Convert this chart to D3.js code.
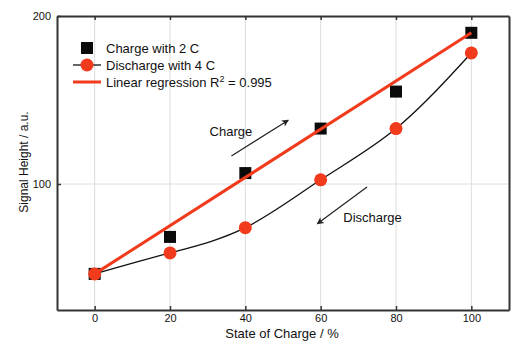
<!DOCTYPE html>
<html>
<head>
<meta charset="utf-8">
<script src="https://cdn.jsdelivr.net/npm/d3@7"></script>
<style>
  body { margin: 0; background: #fff; }
  text { font-family: "Liberation Sans", Arial, sans-serif; }
</style>
</head>
<body>
<div id="wrapper"></div>
<script>
// data
const soc = [0, 20, 40, 60, 80, 100]
const chargeValues = [46.5, 68.5, 106.5, 133, 155, 190]
const dischargeValues = [46.5, 59, 74, 102.5, 133, 178]
const regression = [[0, 46.5], [100, 190]]
const xTicks = [0, 20, 40, 60, 80, 100]
const yTicks = [100, 200]
const legendLabels = ["Charge with 2 C", "Discharge with 4 C", "Linear regression R"]
const annotations = [
  { text: "Charge", x: 30.5, y: 128.5, from: [36.3, 116.6], to: [51.4, 138] },
  { text: "Discharge", x: 66, y: 77.5, from: [72.3, 98.2], to: [59.1, 76.3] },
]

const red = "#f23a1c"

// dimensions
let dimensions = {
  width: 525,
  height: 347,
  margin: { top: 16, right: 16, bottom: 37, left: 57 },
}
dimensions.boundWidth = dimensions.width - dimensions.margin.left - dimensions.margin.right
dimensions.boundHeight = dimensions.height - dimensions.margin.top - dimensions.margin.bottom

const wrapper = d3.select("#wrapper")
  .append("svg")
    .attr("width", dimensions.width)
    .attr("height", dimensions.height)

const defs = wrapper.append("defs")
defs.append("marker")
    .attr("id", "arrow")
    .attr("viewBox", "0 0 10 10")
    .attr("refX", 9)
    .attr("refY", 5)
    .attr("markerWidth", 9)
    .attr("markerHeight", 7)
    .attr("markerUnits", "userSpaceOnUse")
    .attr("orient", "auto")
  .append("path")
    .attr("d", "M0,0 L10,5 L0,10 L2.5,5 Z")
    .attr("fill", "#222")

const bounds = wrapper.append("g")
  .attr("transform", `translate(${dimensions.margin.left},${dimensions.margin.top})`)

// scales
const xScale = d3.scaleLinear()
  .domain([-10, 110])
  .range([0, dimensions.boundWidth])

const yScale = d3.scaleLinear()
  .domain([25, 200])
  .range([dimensions.boundHeight, 0])

// grid
bounds.append("g")
  .selectAll("line")
  .data(xTicks)
  .join("line")
    .attr("x1", d => xScale(d))
    .attr("x2", d => xScale(d))
    .attr("y1", 0)
    .attr("y2", dimensions.boundHeight)
    .attr("stroke", "#dcdcdc")
    .attr("stroke-width", 1)

bounds.append("line")
  .attr("x1", 0)
  .attr("x2", dimensions.boundWidth)
  .attr("y1", yScale(100))
  .attr("y2", yScale(100))
  .attr("stroke", "#dcdcdc")

// axes
bounds.append("g")
  .attr("id", "x-axis")
  .attr("transform", `translate(0,${dimensions.boundHeight})`)
  .call(d3.axisBottom(xScale).tickValues(xTicks).tickSizeInner(-4).tickSizeOuter(0).tickPadding(4))

bounds.append("g")
  .call(d3.axisTop(xScale).tickValues(xTicks).tickSizeInner(-4).tickSizeOuter(0).tickFormat(""))

bounds.append("g")
  .attr("id", "y-axis")
  .call(d3.axisLeft(yScale).tickValues(yTicks).tickSizeInner(-4).tickSizeOuter(0).tickPadding(6))

bounds.append("g")
  .attr("transform", `translate(${dimensions.boundWidth},0)`)
  .call(d3.axisRight(yScale).tickValues([]).tickSizeOuter(0))

bounds.selectAll(".domain")
  .attr("stroke", "#333")
  .attr("stroke-width", 2)
bounds.selectAll(".tick line")
  .attr("stroke", "#333")
  .attr("stroke-width", 1.5)
bounds.selectAll(".tick text")
  .attr("font-size", 11)
  .attr("fill", "#111")
  .style("font-family", "Liberation Sans, Arial, sans-serif")

// axis labels
wrapper.append("text")
  .attr("x", 282)
  .attr("y", 338)
  .attr("text-anchor", "middle")
  .attr("font-size", 13)
  .attr("fill", "#111")
  .text("State of Charge / %")

wrapper.append("text")
  .attr("transform", "translate(28,162) rotate(-90)")
  .attr("text-anchor", "middle")
  .attr("font-size", 12)
  .attr("fill", "#111")
  .text("Signal Height / a.u.")

// discharge smooth curve
const dischargeData = soc.map((d, i) => [d, dischargeValues[i]])
const chargeData = soc.map((d, i) => [d, chargeValues[i]])

const lineGen = d3.line()
  .x(d => xScale(d[0]))
  .y(d => yScale(d[1]))

bounds.append("path")
  .datum(dischargeData)
  .attr("d", lineGen.curve(d3.curveNatural))
  .attr("fill", "none")
  .attr("stroke", "#111")
  .attr("stroke-width", 1.3)

// charge squares
const sq = 12
bounds.append("g")
  .selectAll("rect")
  .data(chargeData)
  .join("rect")
    .attr("x", d => xScale(d[0]) - sq / 2)
    .attr("y", d => yScale(d[1]) - sq / 2)
    .attr("width", sq)
    .attr("height", sq)
    .attr("fill", "#0a0a0a")

// regression line
bounds.append("path")
  .datum(regression)
  .attr("d", lineGen.curve(d3.curveLinear))
  .attr("fill", "none")
  .attr("stroke", red)
  .attr("stroke-width", 3)

// discharge circles
bounds.append("g")
  .selectAll("circle")
  .data(dischargeData)
  .join("circle")
    .attr("cx", d => xScale(d[0]))
    .attr("cy", d => yScale(d[1]))
    .attr("r", 6.5)
    .attr("fill", red)

// annotations
const ann = bounds.append("g")
ann.selectAll("line")
  .data(annotations)
  .join("line")
    .attr("x1", d => xScale(d.from[0]))
    .attr("y1", d => yScale(d.from[1]))
    .attr("x2", d => xScale(d.to[0]))
    .attr("y2", d => yScale(d.to[1]))
    .attr("stroke", "#222")
    .attr("stroke-width", 1.2)
    .attr("marker-end", "url(#arrow)")
ann.selectAll("text")
  .data(annotations)
  .join("text")
    .attr("x", d => xScale(d.x))
    .attr("y", d => yScale(d.y))
    .attr("font-size", 13)
    .attr("fill", "#111")
    .text(d => d.text)

// legend
const legend = wrapper.append("g")
  .attr("transform", "translate(87,48)")
const rowGap = 17

legend.append("rect")
  .attr("x", -sq / 2).attr("y", -sq / 2)
  .attr("width", sq).attr("height", sq)
  .attr("fill", "#0a0a0a")

legend.append("line")
  .attr("x1", -14).attr("x2", 14)
  .attr("y1", rowGap).attr("y2", rowGap)
  .attr("stroke", "#111").attr("stroke-width", 1.3)
legend.append("circle")
  .attr("cx", 0).attr("cy", rowGap).attr("r", 6.5)
  .attr("fill", red)

legend.append("line")
  .attr("x1", -14).attr("x2", 14)
  .attr("y1", rowGap * 2).attr("y2", rowGap * 2)
  .attr("stroke", red).attr("stroke-width", 3)

const legendText = legend.selectAll("text.lbl")
  .data(legendLabels)
  .join("text")
    .attr("class", "lbl")
    .attr("x", 19)
    .attr("y", (d, i) => i * rowGap + 5)
    .attr("font-size", 13)
    .attr("fill", "#111")
    .text(d => d)

legendText.filter((d, i) => i === 2)
  .append("tspan").attr("dy", -5).attr("font-size", 9).text("2")
legendText.filter((d, i) => i === 2)
  .append("tspan").attr("dy", 5).text(" = 0.995")
</script>
</body>
</html>
